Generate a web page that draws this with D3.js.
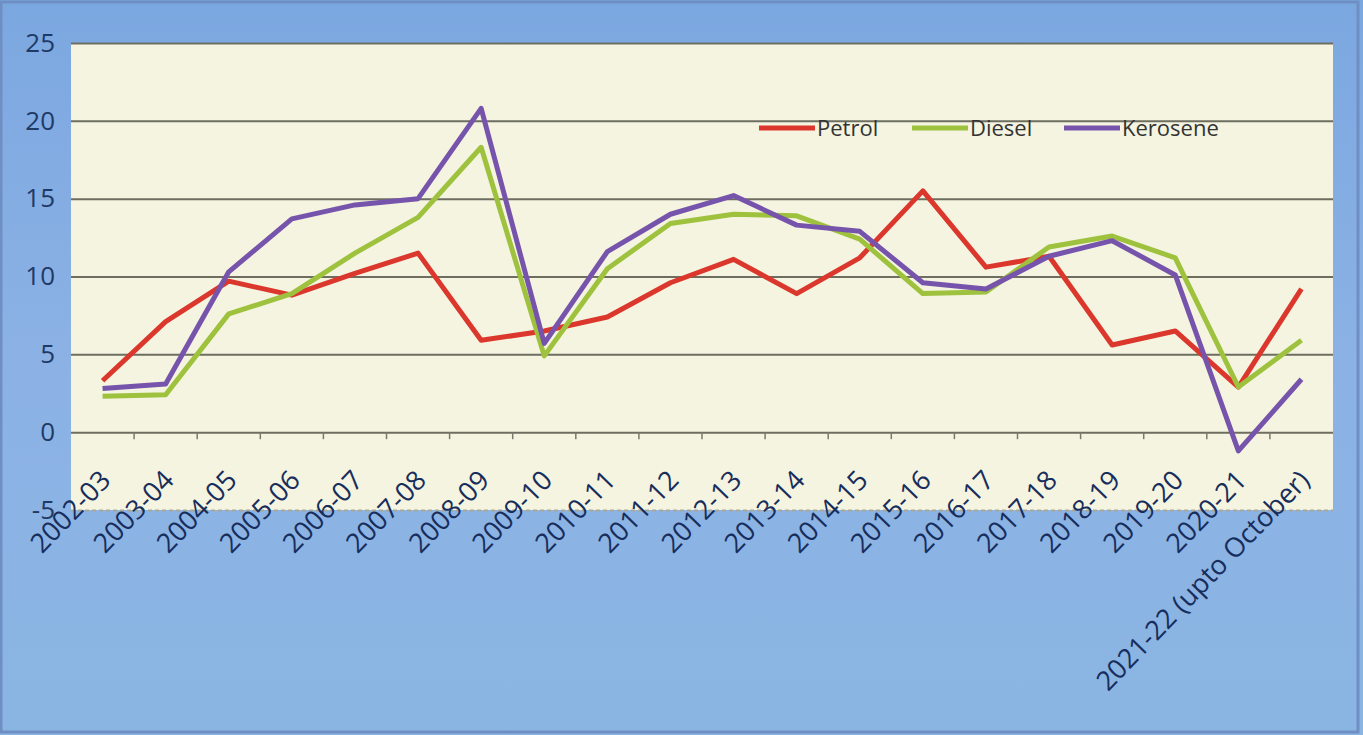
<!DOCTYPE html>
<html lang="en">
<head>
  <meta charset="UTF-8">
  <title>Petrol, Diesel, Kerosene</title>
  <script src="https://d3js.org/d3.v7.min.js"></script>
  <style>
    body { margin: 0; overflow: hidden; }
    text { font-family: "Open Sans", sans-serif; }
  </style>
</head>
<body>
  <div id="chart"></div>

  <script>
    const categories = ["2002-03", "2003-04", "2004-05", "2005-06", "2006-07", "2007-08", "2008-09",
      "2009-10", "2010-11", "2011-12", "2012-13", "2013-14", "2014-15", "2015-16", "2016-17",
      "2017-18", "2018-19", "2019-20", "2020-21", "2021-22 (upto October)"];
    const petrol   = [3.3, 7.1, 9.7, 8.8, 10.2, 11.5, 5.9, 6.5, 7.4, 9.6, 11.1, 8.9, 11.2, 15.5, 10.6, 11.3, 5.6, 6.5, 2.9, 9.2];
    const diesel   = [2.3, 2.4, 7.6, 8.9, 11.5, 13.8, 18.3, 4.9, 10.5, 13.4, 14.0, 13.9, 12.4, 8.9, 9.0, 11.9, 12.6, 11.2, 2.9, 5.9];
    const kerosene = [2.8, 3.1, 10.3, 13.7, 14.6, 15.0, 20.8, 5.7, 11.6, 14.0, 15.2, 13.3, 12.9, 9.6, 9.2, 11.3, 12.3, 10.1, -1.2, 3.4];
    const yTicks = [-5, 0, 5, 10, 15, 20, 25];

    const series = [
      { name: "Petrol", values: petrol, color: "#db372c" },
      { name: "Diesel", values: diesel, color: "#9ec23e" },
      { name: "Kerosene", values: kerosene, color: "#7754ac" }
    ];

    const W = 1363, H = 735;
    const margin = { top: 43, right: 30, bottom: 225, left: 71 };
    const width = W - margin.left - margin.right;
    const height = H - margin.top - margin.bottom;

    const svg = d3.select("#chart").append("svg")
      .attr("width", W)
      .attr("height", H);

    // background
    const defs = svg.append("defs");
    const grad = defs.append("linearGradient").attr("id", "bg")
      .attr("x1", 0).attr("y1", 0).attr("x2", 0).attr("y2", 1);
    grad.append("stop").attr("offset", "0%").attr("stop-color", "#7ba7e0");
    grad.append("stop").attr("offset", "50%").attr("stop-color", "#8cb2e5");
    grad.append("stop").attr("offset", "100%").attr("stop-color", "#8ab5e2");
    svg.append("rect").attr("width", W).attr("height", H).attr("fill", "url(#bg)");
    svg.append("rect").attr("x", 1).attr("y", 2).attr("width", W - 6).attr("height", H - 5)
      .attr("fill", "none").attr("stroke", "#6f8fc4").attr("stroke-width", 3);

    const g = svg.append("g").attr("transform", `translate(${margin.left},${margin.top})`);

    const x = d3.scaleBand().domain(categories).range([0, width]);
    const y = d3.scaleLinear().domain([-5, 25]).range([height, 0]);

    g.append("rect").attr("width", width).attr("height", height).attr("fill", "#f4f4e0");

    // y axis with gridlines
    const yAxis = g.append("g")
      .call(d3.axisLeft(y).tickValues(yTicks).tickSize(-width).tickPadding(16).tickFormat(d => String(d)));
    yAxis.select(".domain").remove();
    yAxis.selectAll(".tick line")
      .attr("stroke", d => d === -5 ? "#a8a89a" : "#6e6e60")
      .attr("stroke-width", 2)
      .attr("stroke-dasharray", d => d === -5 ? "4,3" : null);
    yAxis.selectAll(".tick text")
      .attr("fill", "#1f3a66")
      .style("font-size", "26px");

    // category axis crossing at 0
    const xAxis = g.append("g")
      .attr("transform", `translate(0,${y(0)})`)
      .call(d3.axisBottom(x).tickSize(0).tickPadding(0));
    xAxis.select(".domain").remove();
    xAxis.selectAll(".tick text")
      .attr("fill", "#172d5c")
      .style("font-size", "27px")
      .attr("text-anchor", "end")
      .attr("y", 0)
      .attr("dy", "0.35em")
      .attr("transform", "translate(3,43) rotate(-46)");

    g.append("g").selectAll("line")
      .data(categories.slice(1))
      .join("line")
      .attr("x1", d => x(d)).attr("x2", d => x(d))
      .attr("y1", y(0)).attr("y2", y(0) + 7)
      .attr("stroke", "#7a7a6c").attr("stroke-width", 1.5);

    // lines
    const line = d3.line()
      .x((d, i) => x(categories[i]) + x.bandwidth() / 2)
      .y(d => y(d));

    g.selectAll(".series")
      .data(series)
      .join("path")
      .attr("class", "series")
      .attr("fill", "none")
      .attr("stroke", d => d.color)
      .attr("stroke-width", 5)
      .attr("stroke-linejoin", "round")
      .attr("d", d => line(d.values));

    // legend
    const legendX = [688, 841, 993];
    const legend = g.selectAll(".legend")
      .data(series)
      .join("g")
      .attr("class", "legend")
      .attr("transform", (d, i) => `translate(${legendX[i]},85)`);
    legend.append("line")
      .attr("x1", 0).attr("x2", 56)
      .attr("stroke", d => d.color).attr("stroke-width", 5);
    legend.append("text")
      .attr("x", 58).attr("dy", "0.35em")
      .attr("fill", "#333333")
      .style("font-size", "22px")
      .text(d => d.name);
  </script>
</body>
</html>
